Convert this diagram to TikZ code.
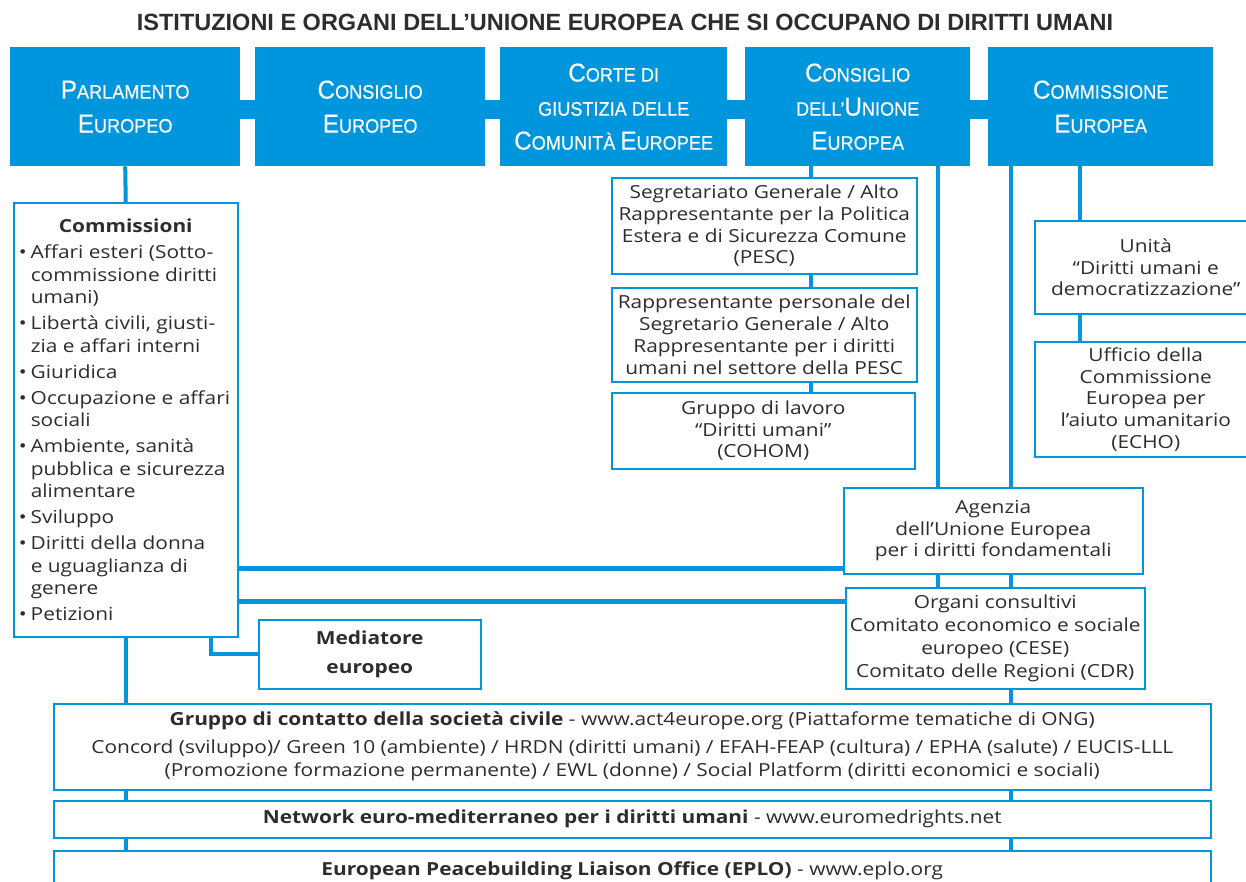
\documentclass[tikz,border=0pt]{standalone}
\usepackage{fontspec}
\setmainfont{Open Sans}[FakeStretch=1.16]
\newfontfamily\headfont[FakeStretch=0.93,FakeBold=0.4]{Liberation Sans}
\newfontfamily\titlefont{Liberation Sans}
\definecolor{eublue}{RGB}{0,150,222}
\definecolor{txt}{RGB}{45,45,45}
\newcommand\hsc[2]{{\fontsize{26}{34}\selectfont #1}{\fontsize{19.5}{34}\selectfont #2}}
\newcommand\bitem{\par\hangindent=12pt\hangafter=1\noindent\makebox[12pt][l]{\textbullet}}
\tikzset{
  hbox/.style={fill=eublue, draw=none, text=white, align=center, inner sep=0pt,
    anchor=north west, font=\headfont\fontsize{19.5}{34}\selectfont},
  wbox/.style={draw=eublue, line width=1.5pt, fill=white, text=txt, align=center,
    inner sep=0pt, anchor=north west, font=\fontsize{18}{21.7}\selectfont},
  conn/.style={draw=eublue, line width=4pt},
  tconn/.style={draw=eublue, line width=5pt},
  hbar/.style={draw=eublue, line width=19pt},
}
\begin{document}
\begin{tikzpicture}[x=1pt,y=-1pt]
\useasboundingbox (0,0) rectangle (1246,881);
\clip (0,0) rectangle (1246,881);
\fill[white] (0,0) rectangle (1246,881);

\node[font=\titlefont\bfseries\fontsize{23.5}{26}\selectfont, text=txt] (title) at (625,22)
  {ISTITUZIONI E ORGANI DELL’UNIONE EUROPEA CHE SI OCCUPANO DI DIRITTI UMANI};

% header boxes
\node[hbox, minimum width=230, minimum height=119] (p) at (10,47)
  {\hsc{P}{ARLAMENTO}\\\hsc{E}{UROPEO}};
\node[hbox, minimum width=230, minimum height=119] (ce) at (255,47)
  {\hsc{C}{ONSIGLIO}\\\hsc{E}{UROPEO}};
\node[hbox, minimum width=227, minimum height=119] (co) at (500,47)
  {\hsc{C}{ORTE DI}\\\hsc{}{GIUSTIZIA DELLE}\\\hsc{C}{OMUNITÀ} \hsc{E}{UROPEE}};
\node[hbox, minimum width=225, minimum height=119] (cu) at (745,47)
  {\hsc{C}{ONSIGLIO}\\\hsc{}{DELL’}\hsc{U}{NIONE}\\\hsc{E}{UROPEA}};
\node[hbox, minimum width=225, minimum height=119] (com) at (988,47)
  {\hsc{C}{OMMISSIONE}\\\hsc{E}{UROPEA}};

\draw[hbar] ([yshift=-3pt]p.east) -- ([yshift=-3pt]ce.west);
\draw[hbar] ([yshift=-3pt]ce.east) -- ([yshift=-3pt]co.west);
\draw[hbar] ([yshift=-3pt]co.east) -- ([yshift=-3pt]cu.west);
\draw[hbar] ([yshift=-3pt]cu.east) -- ([yshift=-3pt]com.west);

% Parlamento side
\node[wbox, minimum width=224, minimum height=434] (comm) at (13,202)
  {\parbox{214pt}{\fontsize{18}{22.5}\selectfont\parskip=3.5pt\raggedright
   {\centering\bfseries Commissioni\par}
   \bitem Affari esteri (Sotto-\newline commissione diritti\newline umani)
   \bitem Libertà civili, giusti-\newline zia e affari interni
   \bitem Giuridica
   \bitem Occupazione e affari\newline sociali
   \bitem Ambiente, sanità\newline pubblica e sicurezza\newline alimentare
   \bitem Sviluppo
   \bitem Diritti della donna\newline e uguaglianza di\newline genere
   \bitem Petizioni\par}};
\node[wbox, minimum width=222, minimum height=69, font=\bfseries\fontsize{18}{29}\selectfont] (med) at (258,619)
  {Mediatore\\europeo};

% Consiglio UE side
\node[wbox, minimum width=305, minimum height=96] (seg) at (611,177)
  {Segretariato Generale / Alto\\Rappresentante per la Politica\\Estera e di Sicurezza Comune\\(PESC)};
\node[wbox, minimum width=305, minimum height=94] (rap) at (611,287)
  {Rappresentante personale del\\Segretario Generale / Alto\\Rappresentante per i diritti\\umani nel settore della PESC};
\node[wbox, minimum width=303, minimum height=76] (grp) at (611,392)
  {Gruppo di lavoro\\“Diritti umani”\\(COHOM)};

% Commissione side
\node[wbox, minimum width=222, minimum height=93] (un) at (1034,220)
  {Unità\\“Diritti umani e\\democratizzazione”};
\node[wbox, minimum width=222, minimum height=115] (uff) at (1034,341)
  {Ufficio della\\Commissione\\Europea per\\l’aiuto umanitario\\(ECHO)};

\node[wbox, minimum width=299, minimum height=86] (ag) at (843,487)
  {Agenzia\\dell’Unione Europea\\per i diritti fondamentali};
\node[wbox, minimum width=299, minimum height=101, font=\fontsize{18}{23}\selectfont] (org) at (845,587)
  {Organi consultivi\\Comitato economico e sociale\\europeo (CESE)\\Comitato delle Regioni (CDR)};

% bottom
\node[wbox, minimum width=1157, minimum height=86, font=\fontsize{18}{23}\selectfont] (gc) at (53,703)
  {\textbf{Gruppo di contatto della società civile} - www.act4europe.org (Piattaforme tematiche di ONG)\\[5pt]
   Concord (sviluppo)/ Green 10 (ambiente) / HRDN (diritti umani) / EFAH-FEAP (cultura) / EPHA (salute) / EUCIS-LLL\\
   (Promozione formazione permanente) / EWL (donne) / Social Platform (diritti economici e sociali)};
\node[wbox, minimum width=1157, minimum height=37] (net) at (53,800)
  {\textbf{Network euro-mediterraneo per i diritti umani} - www.euromedrights.net};
\node[wbox, minimum width=1157, minimum height=40] (eplo) at (53,850)
  {\textbf{European Peacebuilding Liaison Office (EPLO)} - www.eplo.org};

% connectors
\draw[conn] (p.south) -- (comm.north);
\draw[conn] (comm.south) -- (comm.south |- gc.north);
\draw[conn] (gc.south -| comm.south) -- (net.north -| comm.south);
\draw[conn] (net.south -| comm.south) -- (eplo.north -| comm.south);
\draw[conn] ([xshift=85pt]comm.south) |- (med.west);
\draw[tconn] ([yshift=6pt]ag.south west -| comm.east) -- ([yshift=6pt]ag.south west);
\draw[tconn] ([yshift=-14pt]org.north west -| comm.east) -- ([yshift=-14pt]org.north west);

\coordinate (sx) at ([xshift=46.5pt]seg.north);
\draw[conn] (sx |- cu.south) -- (sx);
\draw[conn] (seg.south -| sx) -- (rap.north -| sx);
\draw[conn] (rap.south -| sx) -- (grp.north -| sx);

\coordinate (cx) at ([xshift=80.5pt]cu.south);
\draw[conn] (cx) -- (cx |- ag.north);
\draw[conn] (ag.south -| cx) -- (org.north -| cx);

\coordinate (mx) at ([xshift=-89.5pt]com.south);
\draw[conn] (mx) -- (mx |- ag.north);
\draw[conn] (ag.south -| mx) -- (org.north -| mx);
\draw[conn] (org.south -| mx) -- (gc.north -| mx);
\draw[conn] (gc.south -| mx) -- (net.north -| mx);
\draw[conn] (net.south -| mx) -- (eplo.north -| mx);

\coordinate (ux) at ([xshift=-20.5pt]com.south);
\draw[conn] (ux) -- (ux |- un.north);
\draw[conn] (un.south -| ux) -- (uff.north -| ux);
\end{tikzpicture}
\end{document}
